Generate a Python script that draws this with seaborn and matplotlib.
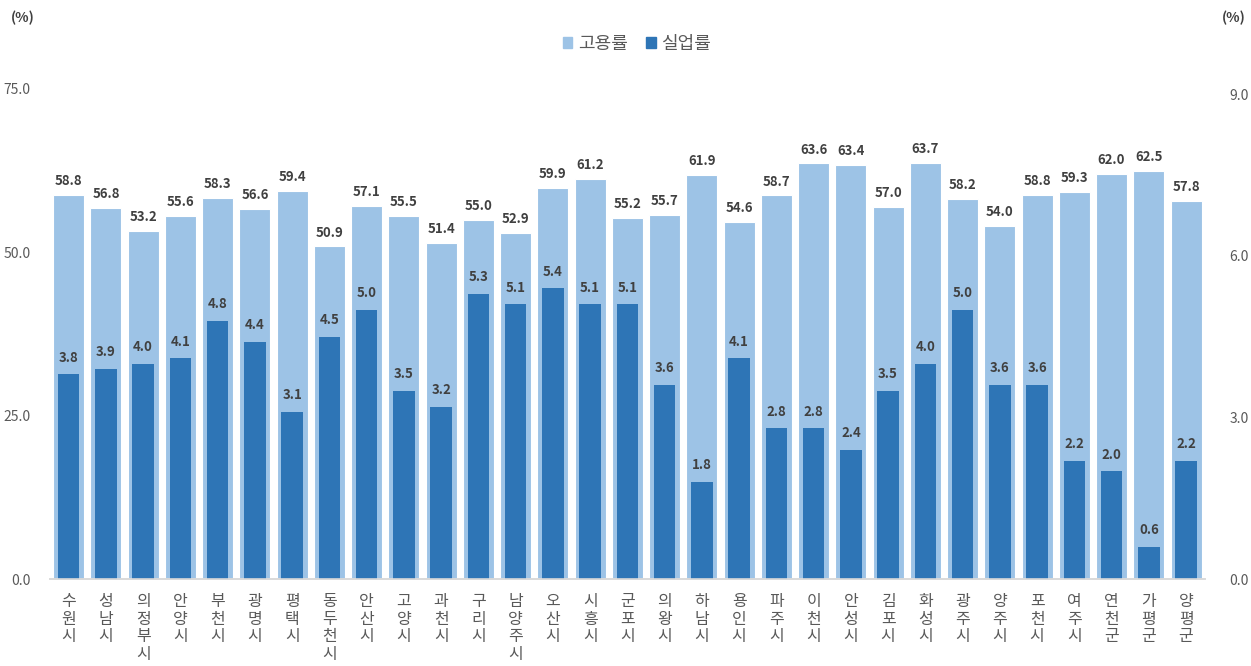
import numpy as np
import pandas as pd
import matplotlib
matplotlib.use('Agg')
import matplotlib.pyplot as plt
import seaborn as sns

sns.set_style('white')
plt.rcParams['font.family'] = ['Noto Sans CJK KR', 'DejaVu Sans']
plt.rcParams['axes.unicode_minus'] = False

# 시군 이름
regions = ['수원시', '성남시', '의정부시', '안양시', '부천시', '광명시', '평택시', '동두천시',
           '안산시', '고양시', '과천시', '구리시', '남양주시', '오산시', '시흥시', '군포시',
           '의왕시', '하남시', '용인시', '파주시', '이천시', '안성시', '김포시', '화성시',
           '광주시', '양주시', '포천시', '여주시', '연천군', '가평군', '양평군']
# 고용률 (좌축)
employment = [58.8, 56.8, 53.2, 55.6, 58.3, 56.6, 59.4, 50.9, 57.1, 55.5, 51.4, 55.0,
              52.9, 59.9, 61.2, 55.2, 55.7, 61.9, 54.6, 58.7, 63.6, 63.4, 57.0, 63.7,
              58.2, 54.0, 58.8, 59.3, 62.0, 62.5, 57.8]
# 실업률 (우축)
unemployment = [3.8, 3.9, 4.0, 4.1, 4.8, 4.4, 3.1, 4.5, 5.0, 3.5, 3.2, 5.3, 5.1, 5.4,
                5.1, 5.1, 3.6, 1.8, 4.1, 2.8, 2.8, 2.4, 3.5, 4.0, 5.0, 3.6, 3.6, 2.2,
                2.0, 0.6, 2.2]
left_ticks = [0, 25, 50, 75]
right_ticks = [0, 3, 6, 9]

light = '#9DC3E6'
dark = '#2E75B6'
txt = '#404040'
tick_col = '#595959'

df = pd.DataFrame({'region': regions, 'emp': employment, 'unemp': unemployment})

fig = plt.figure(figsize=(12.51, 6.66), dpi=100)
ax = fig.add_axes([0.040, 0.1306, 0.923, 0.7358])
ax2 = ax.twinx()

sns.barplot(data=df, x='region', y='emp', color=light, width=0.83, saturation=1,
            edgecolor='white', linewidth=0.8, ax=ax)
sns.barplot(data=df, x='region', y='unemp', color=dark, width=0.58, saturation=1,
            linewidth=0, ax=ax2)

ax.set_xlim(-0.5, len(regions) - 0.5)
ax.set_ylim(0, 75)
ax2.set_ylim(0, 9.1)
ax.set_yticks(left_ticks)
ax.set_yticklabels(['%.1f' % v for v in left_ticks])
ax2.set_yticks(right_ticks)
ax2.set_yticklabels(['%.1f' % v for v in right_ticks])

ax.set_xticks(range(len(regions)))
ax.set_xticklabels(['\n'.join(r) for r in regions], va='top', linespacing=1.05)
ax.tick_params(axis='x', length=0, pad=10, labelsize=11.5, labelcolor=tick_col)
ax.tick_params(axis='y', length=0, pad=14, labelsize=10, labelcolor=tick_col)
ax2.tick_params(axis='y', length=0, pad=18, labelsize=10, labelcolor=tick_col)
ax.set_xlabel('')
ax.set_ylabel('')
ax2.set_ylabel('')

for a in (ax, ax2):
    for s in ('top', 'left', 'right'):
        a.spines[s].set_visible(False)
    a.spines['bottom'].set_color('#D9D9D9')
    a.spines['bottom'].set_linewidth(1.2)
    a.grid(False)

# 값 레이블
for i, v in enumerate(employment):
    ax.annotate('%.1f' % v, (i, v), xytext=(0, 5), textcoords='offset points',
                ha='center', va='bottom', fontsize=9.5, fontweight='bold', color=txt)
for i, v in enumerate(unemployment):
    ax2.annotate('%.1f' % v, (i, v), xytext=(0, 7), textcoords='offset points',
                 ha='center', va='bottom', fontsize=9.5, fontweight='bold', color=txt)

fig.text(0.009, 0.973, '(%)', fontsize=10, fontweight='bold', color=txt, va='center')
fig.text(0.977, 0.973, '(%)', fontsize=10, fontweight='bold', color=txt, va='center')

handles = [plt.Rectangle((0, 0), 1, 1, color=light), plt.Rectangle((0, 0), 1, 1, color=dark)]
fig.legend(handles, ['고용률', '실업률'], loc='center', bbox_to_anchor=(0.509, 0.934),
           ncol=2, frameon=False, fontsize=13, handlelength=0.55, handleheight=0.55,
           handletextpad=0.3, columnspacing=1.0, labelcolor=tick_col)

fig.savefig('out.png', dpi=100)
